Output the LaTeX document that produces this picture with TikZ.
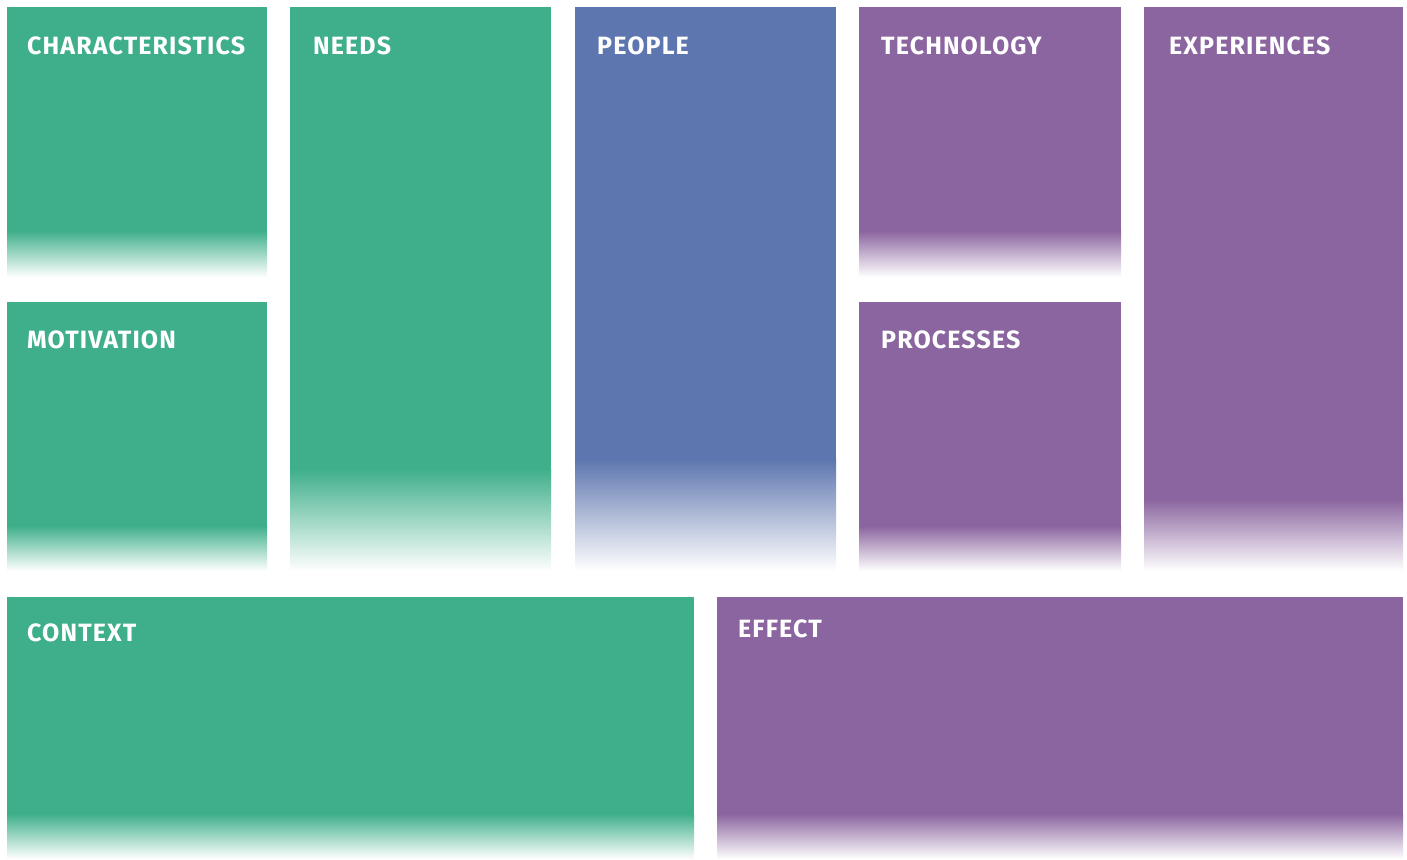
\documentclass[tikz,border=0pt]{standalone}
\usepackage{fontspec}
\setsansfont{Fira Sans}
\newfontfamily\tilefont[LetterSpace=4.5]{Fira Sans}
\usepackage{tikz}
\tikzset{every picture/.style={/utils/exec={\sffamily}}}

\definecolor{tealc}{HTML}{3FAF8B}
\definecolor{bluec}{HTML}{5E76AF}
\definecolor{purplec}{HTML}{8B659F}

\tikzset{
	lbl/.style={anchor=north west, inner sep=0pt, text=white, font=\tilefont\bfseries\fontsize{25}{27}\selectfont},
	fadeoff/.style={top color=#1, middle color=#1!75!white, bottom color=white}
}

\begin{document}
\begin{tikzpicture}[x=1pt,y=-1pt]
		\useasboundingbox (0,0) rectangle (1407,859);

		% left column
		\fill[tealc] (7,7) rectangle (267,232);
		\shade[fadeoff=tealc] (7,231) rectangle (267,277);
		\node[lbl] (charac) at (27,37) {CHARACTERISTICS};

		\fill[tealc] (7,302) rectangle (267,527);
		\shade[fadeoff=tealc] (7,526) rectangle (267,571);
		\node[lbl] (motiv) at (27,331) {MOTIVATION};

		\fill[tealc] (290,7) rectangle (551,470);
		\shade[fadeoff=tealc] (290,469) rectangle (551,571);
		\node[lbl] (needs) at (313,37) {NEEDS};

		% middle
		\fill[bluec] (575,7) rectangle (836,460);
		\shade[fadeoff=bluec] (575,459) rectangle (836,571);
		\node[lbl] (people) at (597,37) {PEOPLE};

		% right
		\fill[purplec] (859,7) rectangle (1121,232);
		\shade[fadeoff=purplec] (859,231) rectangle (1121,277);
		\node[lbl] (techno) at (881,37) {TECHNOLOGY};

		\fill[purplec] (859,302) rectangle (1121,527);
		\shade[fadeoff=purplec] (859,526) rectangle (1121,571);
		\node[lbl] (proc) at (881,331) {PROCESSES};

		\fill[purplec] (1144,7) rectangle (1403,500);
		\shade[fadeoff=purplec] (1144,499) rectangle (1403,571);
		\node[lbl] (exper) at (1169,37) {EXPERIENCES};

		% bottom row
		\fill[tealc] (7,597) rectangle (694,815);
		\shade[fadeoff=tealc] (7,814) rectangle (694,859);
		\node[lbl] (context) at (27,624) {CONTEXT};

		\fill[purplec] (717,597) rectangle (1403,815);
		\shade[fadeoff=purplec] (717,814) rectangle (1403,859);
		\node[lbl] (effect) at (738,620) {EFFECT};
	\end{tikzpicture}
\end{document}
